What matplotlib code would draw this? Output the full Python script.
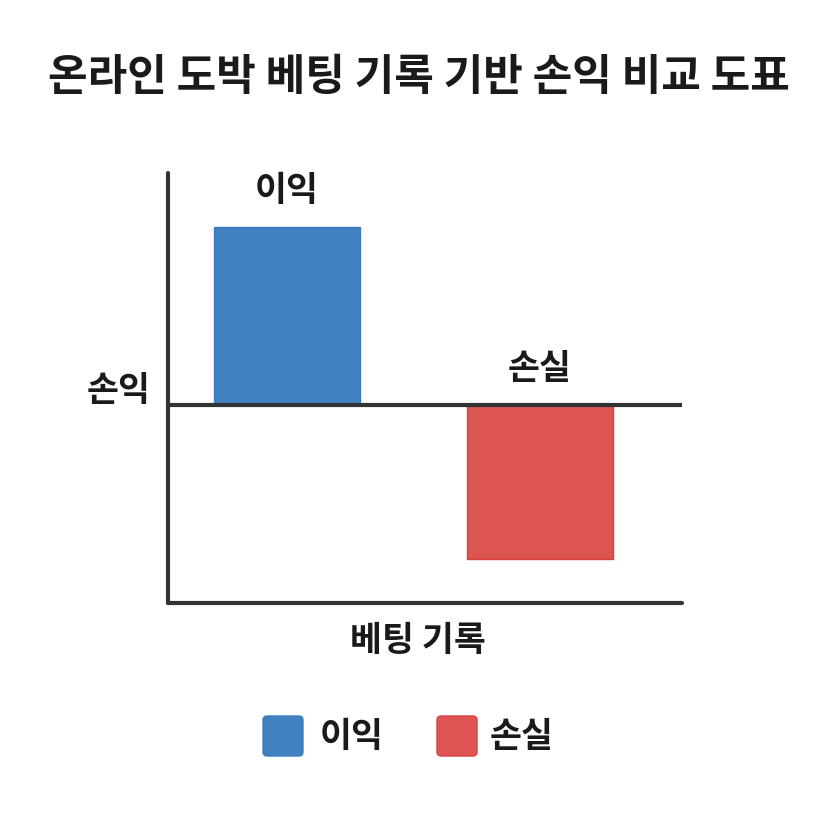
import matplotlib.pyplot as plt
from matplotlib.patches import FancyBboxPatch

plt.rcParams['font.family'] = ['Noto Sans CJK KR', 'DejaVu Sans']

# data
title = '온라인 도박 베팅 기록 기반 손익 비교 도표'
categories = ['이익', '손실']
values = [178, -154]
bar_colors = ['#4181bf', '#dc5553']
edge_colors = ['#3a7bc4', '#d8403e']
x_label = '베팅 기록'
y_label = '손익'

ink = '#1a1a1a'
axis_col = '#333333'

fig = plt.figure(figsize=(8.35, 8.35), dpi=100)
fig.patch.set_facecolor('white')
ax = fig.add_axes([168/835, 1 - 603/835, (682 - 168)/835, (603 - 173)/835])

xpos = list(range(len(categories)))
ax.bar(xpos, values, width=0.577, color=bar_colors, edgecolor=edge_colors,
       linewidth=1, zorder=2)
ax.axhline(0, color=axis_col, linewidth=3, zorder=3, solid_capstyle='round')

for x, v, lab in zip(xpos, values, categories):
    ax.annotate(lab, (x, max(v, 0)), xytext=(0, 14), textcoords='offset points',
                ha='center', va='bottom', fontsize=25, fontweight='bold', color=ink)

ax.set_xlim(-0.47, 1.561)
ax.set_ylim(-198, 232)
ax.set_xticks([])
ax.set_yticks([])
for s in ['top', 'right']:
    ax.spines[s].set_visible(False)
for s in ['left', 'bottom']:
    ax.spines[s].set_color(axis_col)
    ax.spines[s].set_linewidth(3)
    ax.spines[s].set_capstyle('round')

fig.text(0.502, 1 - 77/835, title, ha='center', va='center', fontsize=31,
         fontweight='bold', color=ink)
fig.text(119/835, 1 - 391/835, y_label, ha='center', va='center', fontsize=25,
         fontweight='bold', color=ink)
fig.text(418/835, 1 - 640/835, x_label, ha='center', va='center', fontsize=25,
         fontweight='bold', color=ink)

# legend drawn by hand
sq = 40/835
leg_y = 1 - 756/835
for (sx, tx), lab, fc, ec in zip([(263/835, 320/835), (437/835, 490/835)],
                                 categories, bar_colors, edge_colors):
    fig.add_artist(FancyBboxPatch((sx, leg_y), sq, sq,
                                  boxstyle='round,pad=0,rounding_size=0.005',
                                  transform=fig.transFigure, facecolor=fc,
                                  edgecolor=ec, linewidth=1))
    fig.text(tx, leg_y + sq/2, lab, ha='left', va='center', fontsize=25,
             fontweight='bold', color=ink)

fig.savefig('out.png', dpi=100, facecolor='white')
